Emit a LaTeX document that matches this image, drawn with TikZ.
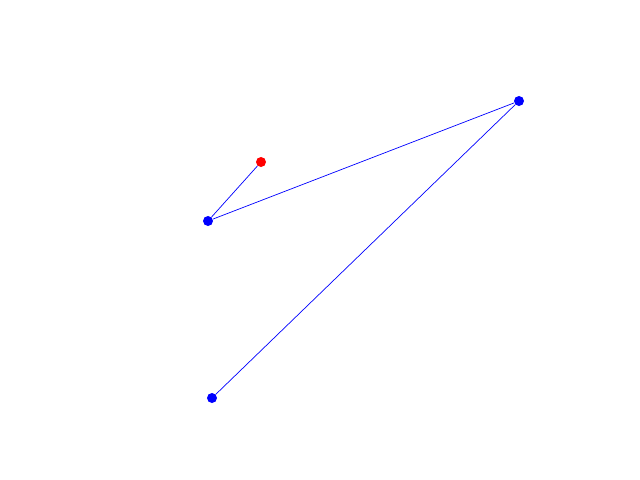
\documentclass[tikz,border=0pt]{standalone}
\usepackage{xcolor}
\usepackage{tikz}
\usetikzlibrary{positioning}

\begin{document}
\begin{tikzpicture}[
    x=0.025cm, y=-0.025cm,
    bluedot/.style={circle, fill=blue, inner sep=0pt, minimum size=0.25cm},
    reddot/.style={circle, fill=red, inner sep=0pt, minimum size=0.25cm},
    link/.style={draw=blue, line width=0.5pt}
]

    % Fix the canvas size
    \useasboundingbox (0,0) rectangle (640,480);

    % Points
    \node (start) [reddot] at (261,162) {};
    \node (pa) [bluedot] at (208,221) {};
    \node (pb) [bluedot] at (519,101) {};
    \node (pc) [bluedot] at (212,398) {};

    % Connecting path
    \draw [link] (start) -- (pa);
    \draw [link] (pa) -- (pb);
    \draw [link] (pb) -- (pc);

\end{tikzpicture}
\end{document}
